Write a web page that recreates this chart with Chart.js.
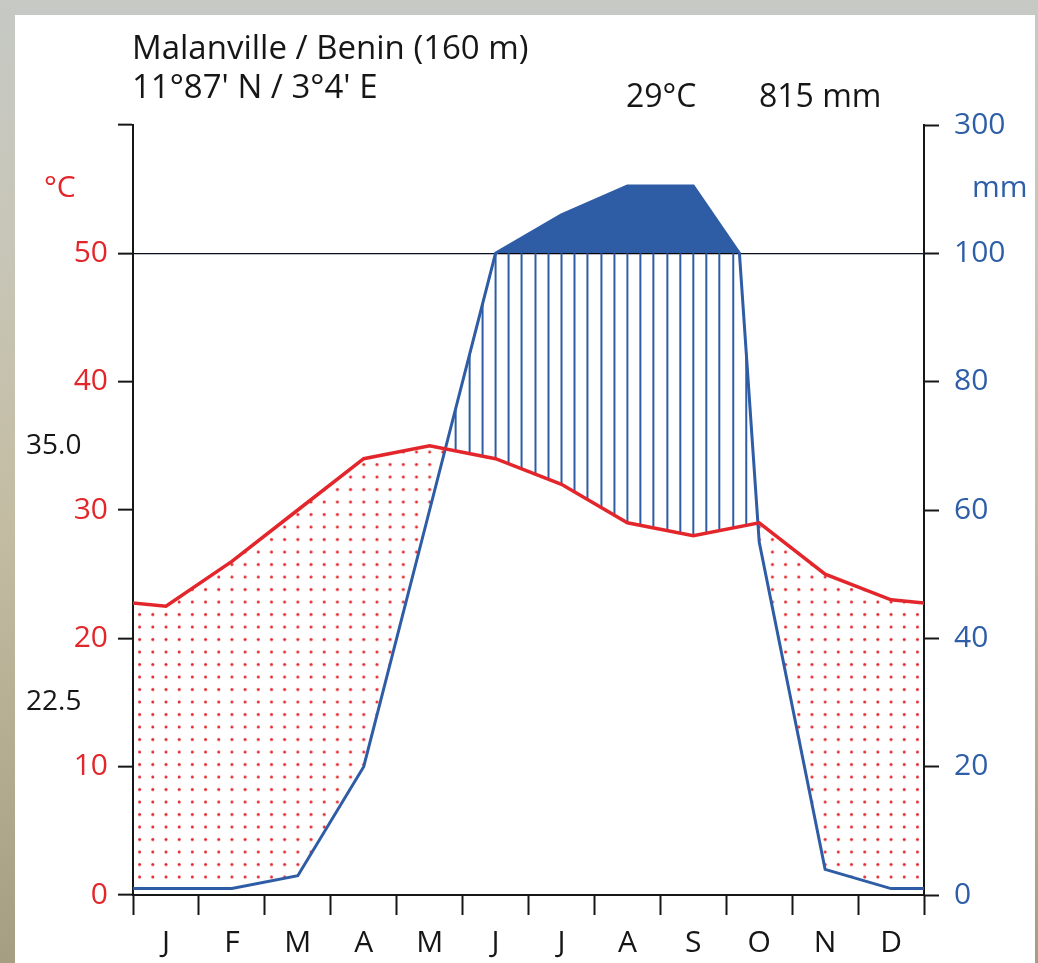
<!DOCTYPE html>
<html><head><meta charset="utf-8">
<script src="https://cdn.jsdelivr.net/npm/chart.js@4.4.1/dist/chart.umd.min.js"></script>
<style>
html,body{margin:0;padding:0;}
body{width:1038px;height:963px;overflow:hidden;position:relative;
background:linear-gradient(to bottom,#c6c9c4 0%,#c8c6b8 25%,#c3bca2 55%,#a59e82 100%);}
#panel{position:absolute;left:15px;top:15px;width:1020px;height:948px;background:#fff;}
canvas{position:absolute;left:0;top:0;}
</style></head><body>
<div id="panel"></div>
<canvas id="c" width="1038" height="963"></canvas>
<script>
// ---- data ----
const months = ['J','F','M','A','M','J','J','A','S','O','N','D'];
const temperature = [22.5, 26, 30, 34, 35, 34, 32, 29, 28, 29, 25, 23];   // °C
const precipitation = [1, 1, 3, 20, 60, 100, 160, 205, 205, 55, 4, 1];    // mm
const tempTicks = [0, 10, 20, 30, 40, 50];
const precipTicks = [0, 20, 40, 60, 80, 100, 300];
const station = 'Malanville / Benin (160 m)';
const coords = "11°87' N / 3°4' E";

// ---- styles ----
const RED = '#e3262b';
const BLUE = '#2e5ca5';
const BLUE_TXT = '#2f5ea8';
const INK = '#161616';
const FONT = '"Open Sans"';
const FS = 30;

// Walter-Lieth scale: 10 °C = 20 mm up to 100 mm, above that 10 °C = 200 mm
function mmToScale(mm){ return mm <= 100 ? mm / 2 : 50 + (mm - 100) / 20; }
function scaleToMm(v){ return v <= 50 ? v * 2 : 100 + (v - 50) * 20; }

// cyclic continuation so the curves run to the edges of the year
const xs = [-0.5, ...months.map((m, i) => i + 0.5), 12.5];
const tW = [temperature[11], ...temperature, temperature[0]];
const pW = [precipitation[11], ...precipitation, precipitation[0]];
const tempPts = xs.map((x, i) => ({x, y: tW[i]}));
const precPts = [];
for (let i = 0; i < xs.length; i++) {
  if (i > 0) {
    const a = pW[i-1], b = pW[i];
    if ((a - 100) * (b - 100) < 0) {
      const f = (100 - a) / (b - a);
      precPts.push({x: xs[i-1] + f * (xs[i] - xs[i-1]), y: 50});
    }
  }
  precPts.push({x: xs[i], y: mmToScale(pW[i])});
}
const clipPts = precPts.map(p => ({x: p.x, y: Math.min(p.y, 50)}));

const canvas = document.getElementById('c');
const ctx = canvas.getContext('2d');

// patterns
function makeHatch(){
  const t = document.createElement('canvas'); t.width = 66; t.height = 8;
  const g = t.getContext('2d'); g.fillStyle = BLUE;
  for (let k = 0; k < 5; k++) g.fillRect(Math.round(6.6 + 13.2 * k) - 1, 0, 2, 8);
  return ctx.createPattern(t, 'repeat');
}
function makeDots(){
  const t = document.createElement('canvas'); t.width = 66; t.height = 25;
  const g = t.getContext('2d'); g.fillStyle = RED;
  for (let k = 0; k < 5; k++) for (const yy of [6.25, 18.75]) {
    g.beginPath(); g.arc(6.6 + 13.2 * k, yy, 1.5, 0, Math.PI * 2); g.fill();
  }
  return ctx.createPattern(t, 'repeat');
}
const hatch = makeHatch();
const dots = makeDots();

const patternPlugin = {
  id: 'patternAlign',
  afterLayout(chart){
    const a = chart.chartArea;
    const sx = (a.width / 12) / 66;
    hatch.setTransform(new DOMMatrix([sx, 0, 0, 1, a.left, 0]));
    dots.setTransform(new DOMMatrix([sx, 0, 0, 1, a.left, a.bottom - 18 - 18.75]));
  }
};

const textPlugin = {
  id: 'texts',
  afterDraw(chart){
    const c = chart.ctx, y = chart.scales.y;
    const tMax = Math.max(...temperature), tMin = Math.min(...temperature);
    const mean = temperature.reduce((s, v) => s + v, 0) / temperature.length;
    const total = precipitation.reduce((s, v) => s + v, 0);
    c.save();
    c.textAlign = 'left'; c.textBaseline = 'alphabetic';
    c.fillStyle = INK;
    c.font = '33px ' + FONT;
    c.fillText(station, 132, 59);
    c.fillText(coords, 132, 98);
    c.font = '32px ' + FONT;
    c.fillText(Math.round(mean) + '°C', 626, 107);
    c.fillText(Math.round(total) + ' mm', 759, 107);
    c.font = '28px ' + FONT;
    c.textBaseline = 'middle';
    c.fillText(tMax.toFixed(1), 26, y.getPixelForValue(tMax));
    c.fillText(tMin.toFixed(1), 26, 702);
    c.textBaseline = 'alphabetic';
    c.font = '30px ' + FONT;
    c.fillStyle = RED; c.fillText('°C', 44, 197);
    c.fillStyle = BLUE_TXT; c.fillText('mm', 972, 197);
    c.restore();
  }
};

const xTicks = [];
for (let v = 0; v <= 24; v++) xTicks.push({value: v / 2});

function draw(){
  new Chart(ctx, {
    type: 'line',
    data: {
      datasets: [
        { label: 'Temperatur', data: tempPts, borderColor: RED, borderWidth: 3.5,
          pointRadius: 0, fill: false, tension: 0, order: 0 },
        { label: 'Niederschlag', data: precPts, borderColor: BLUE, borderWidth: 3,
          pointRadius: 0, tension: 0, order: 1,
          fill: {value: 50, above: BLUE, below: 'rgba(0,0,0,0)'} },
        { label: 'humid/arid', data: clipPts, borderColor: 'rgba(0,0,0,0)', borderWidth: 0,
          pointRadius: 0, tension: 0, order: 2,
          fill: {target: 0, above: hatch, below: dots} }
      ]
    },
    options: {
      responsive: false, animation: false, devicePixelRatio: 1,
      layout: {padding: {top: 125, left: 0, right: 0, bottom: 0}},
      plugins: {legend: {display: false}, tooltip: {enabled: false}},
      scales: {
        x: {
          type: 'linear', position: 'bottom', min: 0, max: 12,
          afterBuildTicks: s => { s.ticks = xTicks.map(t => ({value: t.value})); },
          afterFit: s => { s.height = 68; },
          border: {display: true, color: INK, width: 2},
          grid: {drawOnChartArea: false, drawTicks: true, tickLength: 20, tickWidth: 2,
                 tickColor: c => Number.isInteger(c.tick && c.tick.value) ? INK : 'rgba(0,0,0,0)'},
          ticks: {autoSkip: false, maxRotation: 0, padding: 10, color: INK,
                  font: {family: FONT, size: FS},
                  callback: v => Number.isInteger(v) ? '' : months[Math.floor(v)]}
        },
        y: {
          type: 'linear', position: 'left', min: 0, max: 60,
          afterFit: s => { s.width = 133; },
          border: {display: true, color: INK, width: 2},
          grid: {drawOnChartArea: true, drawTicks: true, tickLength: 15, tickWidth: 2, tickColor: INK,
                 lineWidth: 1.3,
                 color: c => (c.tick && c.tick.value === 50) ? '#000' : 'rgba(0,0,0,0)'},
          afterBuildTicks: s => { s.ticks = [...tempTicks, 60].map(v => ({value: v})); },
          ticks: {color: RED, padding: 10, font: {family: FONT, size: FS},
                  callback: v => tempTicks.includes(v) ? String(v) : ''}
        },
        y2: {
          type: 'linear', position: 'right', min: 0, max: 60,
          afterFit: s => { s.width = 114; },
          border: {display: true, color: INK, width: 2},
          grid: {drawOnChartArea: false, drawTicks: true, tickLength: 15, tickWidth: 2, tickColor: INK},
          afterBuildTicks: s => { s.ticks = precipTicks.map(v => ({value: mmToScale(v)})); },
          ticks: {color: BLUE_TXT, padding: 15, font: {family: FONT, size: FS},
                  callback: v => String(Math.round(scaleToMm(v)))}
        }
      }
    },
    plugins: [patternPlugin, textPlugin]
  });
}
(document.fonts && document.fonts.load ? document.fonts.load(FS + 'px ' + FONT) : Promise.resolve())
  .then(draw, draw);
</script>
</body></html>
